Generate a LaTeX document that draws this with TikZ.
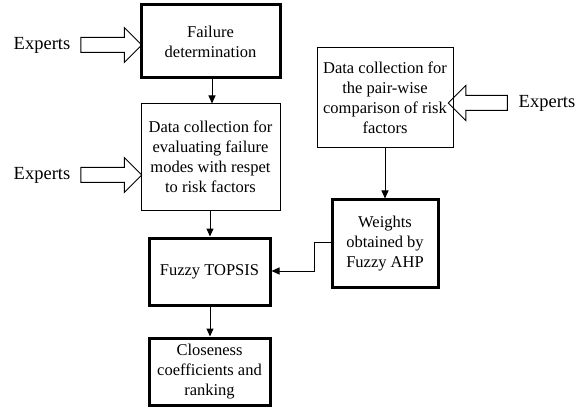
\documentclass[tikz,border=0pt]{standalone}
\usepackage{fontspec}
\setmainfont{Liberation Serif}
\usetikzlibrary{arrows.meta,shapes.arrows}
\begin{document}
\begin{tikzpicture}[x=1pt,y=-1pt,
  box/.style={draw, line width=1pt, align=center, inner sep=2pt,
    font=\fontsize{16.5}{20}\selectfont},
  boldbox/.style={box, line width=3pt},
  link/.style={draw, line width=1pt, -{Triangle[length=8pt,width=7pt]}},
  expert/.style={font=\fontsize{18.5}{22}\selectfont, inner sep=0pt},
  input/.style={single arrow, draw, line width=1pt, inner sep=7pt,
    minimum width=34pt, single arrow head extend=10pt,
    single arrow head indent=0pt}
]
\useasboundingbox (0,0) rectangle (584,409);

% main chain
\node[boldbox, minimum width=139pt, minimum height=73pt] (fail) at (210.5,41.5)
  {Failure\\determination};
\node[box, minimum width=139pt, minimum height=106pt] (eval) at (210.5,157)
  {Data collection for\\evaluating failure\\modes with respet\\to risk factors};
\node[boldbox, minimum width=121pt, minimum height=67pt] (topsis) at (209.5,271.5)
  {Fuzzy TOPSIS};
\node[boldbox, minimum width=121pt, minimum height=67pt] (close) at (209.5,371.5)
  {Closeness\\coefficients and\\ranking};

% weighting branch
\node[box, minimum width=136pt, minimum height=100pt] (pair) at (385,98)
  {Data collection for\\the pair-wise\\comparison of risk\\factors};
\node[boldbox, minimum width=106pt, minimum height=87pt] (weights) at (385,243.5)
  {Weights\\obtained by\\Fuzzy AHP};

% expert inputs
\node[expert] (ex1) at (42,45) {Experts};
\node[expert] (ex2) at (42,175) {Experts};
\node[expert] (ex3) at (547,103) {Experts};
\node[input, minimum height=61pt] (in1) at (107.5,45) {};
\node[input, minimum height=61pt] (in2) at (107.5,175) {};
\node[input, minimum height=59pt, shape border rotate=180] (in3) at (481.5,103) {};

% connectors
\draw[link] (fail.south -| 212,0) -- (eval.north -| 212,0);
\draw[link] (eval.south -| 210,0) -- (topsis.north -| 210,0);
\draw[link] (topsis.south -| 210,0) -- (close.north -| 210,0);
\draw[link] (pair.south) -- (weights.north);
\coordinate (bend) at (314,242);
\draw[link] (weights.west |- bend) -- (bend) -- (314,271) -- (topsis.east |- 0,271);
\end{tikzpicture}
\end{document}
